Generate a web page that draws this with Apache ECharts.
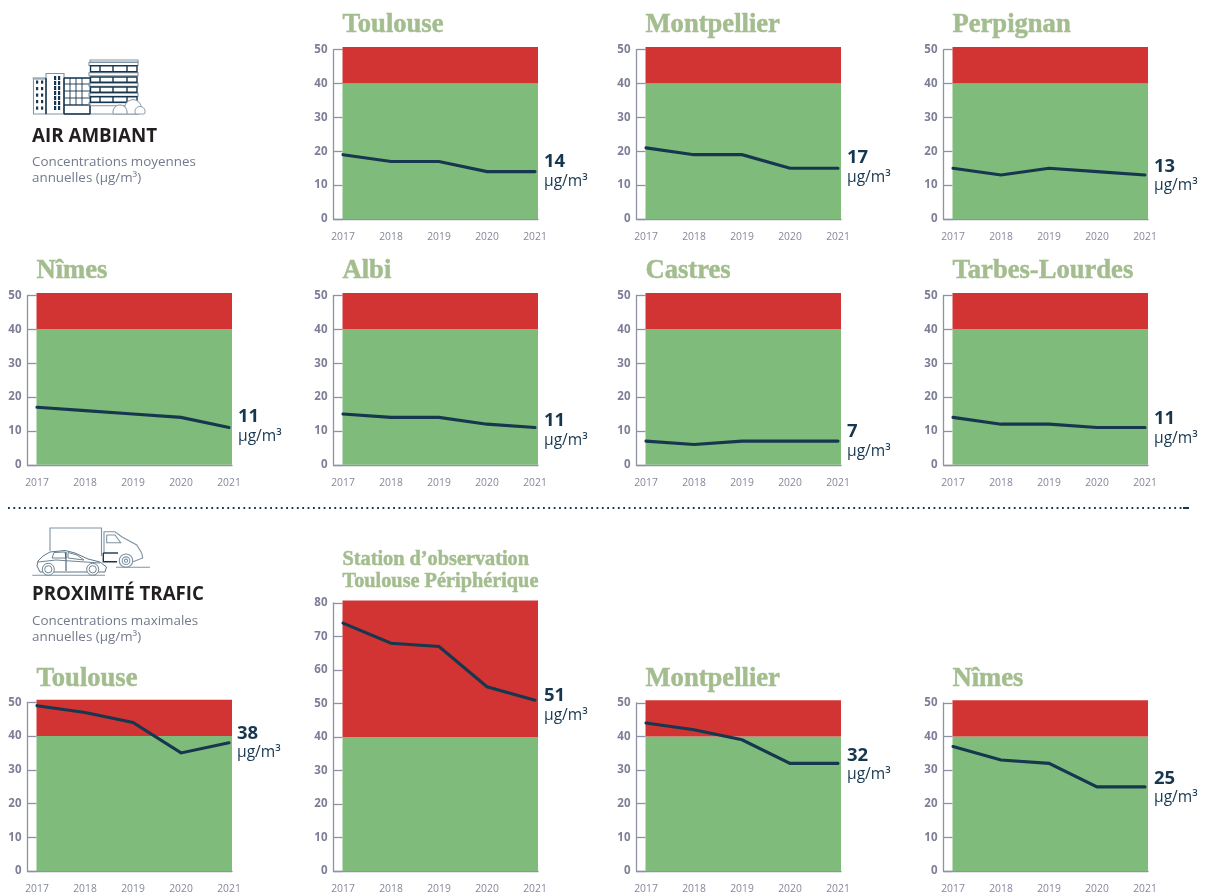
<!DOCTYPE html>
<html>
<head>
<meta charset="utf-8">
<style>html,body{margin:0;padding:0;background:#fff}#c{width:1209px;height:894px}</style>
<script src="https://cdn.jsdelivr.net/npm/echarts@6/dist/echarts.min.js"></script>
</head>
<body>
<div id="c"></div>
<script>
const years = [2017, 2018, 2019, 2020, 2021];
const unit = 'µg/m³';
const limitValue = 40;

const ambToulouse = [19, 17, 17, 14, 14];
const ambMontpellier = [21, 19, 19, 15, 15];
const ambPerpignan = [15, 13, 15, 14, 13];
const ambNimes = [17, 16, 15, 14, 11];
const ambAlbi = [15, 14, 14, 12, 11];
const ambCastres = [7, 6, 7, 7, 7];
const ambTarbes = [14, 12, 12, 11, 11];
const trafToulouse = [49, 47, 44, 35, 38];
const trafStation = [74, 68, 67, 55, 51];
const trafMontpellier = [44, 42, 39, 32, 32];
const trafNimes = [37, 33, 32, 25, 25];
// the figures printed beside each line, as printed in the source
const printedValues = [14, 17, 13, 11, 11, 7, 11, 38, 51, 32, 25];

const COL = [37, 343, 646, 953];
const STEP = 48;
const ROW1 = {top: 49.7, zero: 219}, ROW2 = {top: 295.5, zero: 464.8};
const panels = [
  {t:'Toulouse', d:ambToulouse, x:COL[1], ...ROW1, max:50, ty:25, dy:0},
  {t:'Montpellier', d:ambMontpellier, x:COL[2], ...ROW1, max:50, ty:25, dy:-0.5},
  {t:'Perpignan', d:ambPerpignan, x:COL[3], ...ROW1, max:50, ty:25, dy:1},
  {t:'Nîmes', d:ambNimes, x:COL[0], ...ROW2, max:50, ty:271, dy:-1},
  {t:'Albi', d:ambAlbi, x:COL[1], ...ROW2, max:50, ty:271, dy:2.5},
  {t:'Castres', d:ambCastres, x:COL[2], ...ROW2, max:50, ty:271, dy:0.5},
  {t:'Tarbes-Lourdes', d:ambTarbes, x:COL[3], ...ROW2, max:50, ty:271, dy:1},
  {t:'Toulouse', d:trafToulouse, x:COL[0], top:702.3, zero:872.3, max:50, ty:679, dy:0, dx:-1},
  {t:'Station d’observation\nToulouse Périphérique', d:trafStation, x:COL[1], top:603, zero:873.3, max:80, ty:572, small:true, dy:5},
  {t:'Montpellier', d:trafMontpellier, x:COL[2], top:702.8, zero:872, max:50, ty:679, dy:1.5},
  {t:'Nîmes', d:trafNimes, x:COL[3], top:702.8, zero:872, max:50, ty:679, dy:1}
];

const INK = '#17374f', AXIS = '#8f91a6', TICKTXT = '#7c7f96', GREEN = '#7fbb7a', RED = '#d23434', TITLE = '#a3bd8f';
const SANS = '"Open Sans","Noto Sans",sans-serif', SERIF = '"Liberation Serif",serif';

const grid = [], xAxis = [], yAxis = [], series = [], title = [];
panels.forEach((p, i) => {
  const pxPerUnit = (p.zero - p.top) / p.max;
  const xMin = years[0] - 9.5 / STEP, xMax = years[4] + 3 / STEP;
  const bandL = years[0] - 0.5 / STEP;
  const redTop = p.max + 2.6 / pxPerUnit;
  grid.push({left: p.x - 9.5, width: 4 * STEP + 12.5, top: p.top, height: p.zero - p.top, containLabel: false});
  xAxis.push({
    gridIndex: i, type: 'value', min: xMin, max: xMax,
    splitLine: {show: false}, axisTick: {show: false},
    axisLine: {show: true, onZero: false, lineStyle: {color: AXIS, width: 1.3}},
    axisLabel: {customValues: years, margin: 13, color: '#85889c', fontSize: 10.3, fontFamily: SANS, formatter: v => String(v), hideOverlap: false}
  });
  yAxis.push({
    gridIndex: i, type: 'value', min: 0, max: p.max, interval: 10,
    splitLine: {show: false},
    axisLine: {show: true, lineStyle: {color: AXIS, width: 1.3}},
    axisTick: {show: true, inside: true, length: 9, lineStyle: {color: AXIS, width: 1.3}},
    axisLabel: {margin: 6, color: TICKTXT, fontSize: 11.5, fontWeight: 'bold', fontFamily: SANS, padding: [0, 0, 3, 0]}
  });
  series.push({
    type: 'custom', xAxisIndex: i, yAxisIndex: i, silent: true, z: 3, clip: false,
    data: [[bandL, xMax, 0, limitValue, 0], [bandL, xMax, limitValue, redTop, 1]],
    encode: {x: [0, 1], y: [2, 3]},
    renderItem: (params, api) => {
      const a = api.coord([api.value(0), api.value(3)]);
      const b = api.coord([api.value(1), api.value(2)]);
      return {type: 'rect', shape: {x: a[0], y: a[1], width: b[0] - a[0], height: b[1] - a[1]},
        style: {fill: api.value(4) ? RED : GREEN}};
    }
  });
  series.push({
    type: 'line', xAxisIndex: i, yAxisIndex: i, z: 5, clip: false,
    data: p.d.map((v, k) => [years[k], v]),
    showSymbol: false, symbol: 'none', silent: true,
    lineStyle: {color: INK, width: 3.1, cap: 'round', join: 'miter'},
    endLabel: {
      show: true, distance: 9, offset: [p.dx || 0, p.dy],
      formatter: () => `{a|${printedValues[i]}}\n{b|${unit}}`,
      rich: {
        a: {fontFamily: SANS, fontWeight: 'bold', fontSize: 18.5, color: INK, lineHeight: 20, align: 'left'},
        b: {fontFamily: SANS, fontSize: 15.6, color: INK, lineHeight: 19, align: 'left'}
      }
    }
  });
  title.push({
    text: p.t, left: p.x - 0.5, top: p.small ? p.ty - 23 : p.ty - 16, padding: 0,
    textStyle: {fontFamily: SERIF, fontWeight: 'bold', color: TITLE, textBorderColor: TITLE, textBorderWidth: 0.5,
      fontSize: p.small ? 20.3 : 26.6, lineHeight: p.small ? 22 : 32}
  });
});

const dark = {stroke: INK, fill: 'none', lineWidth: 1.4};
const soft = {stroke: '#7f93a3', fill: 'none', lineWidth: 1.1};
const thin = {stroke: '#5d7688', fill: 'none', lineWidth: 0.9};
const pl = (pts, style) => ({type: 'polyline', shape: {points: pts}, style});
const rc = (x, y, w, h, style) => ({type: 'rect', shape: {x, y, width: w, height: h}, style});
const ci = (cx, cy, r, style) => ({type: 'circle', shape: {cx, cy, r}, style: Object.assign({}, style, {fill: '#fff'})});
const txt = (x, y, text, font, fill) => ({type: 'text', x, y, style: {text, font, fill, verticalAlign: 'middle'}});
const tree = (cx, cy, r) => {
  const pts = [];
  for (let k = 0; k <= 40; k++) {
    const a = Math.PI * 2 * k / 40;
    const px = cx + r * Math.cos(a), py = cy + r * Math.sin(a);
    pts.push([px, Math.min(py, 114)]);
  }
  return {type: 'polygon', shape: {points: pts}, style: {fill: '#fff', stroke: '#7f93a3', lineWidth: 1}};
};

const icons = [];
// building
icons.push(rc(33.5, 79, 12.5, 35, soft), pl([[32.5, 78], [46, 78]], soft));
[82, 88.5, 95, 101.5, 108].forEach(y => [36, 41].forEach(x => icons.push(rc(x, y - 1.5, 2.2, 3.2, {fill: INK}))));
icons.push(rc(46, 73.5, 18, 40.5, soft));
[54, 58].forEach(x => [76, 81, 86, 91, 96, 101, 106].forEach(y => icons.push(rc(x, y, 2.2, 4, {fill: INK}))));
icons.push(pl([[46, 78], [46, 114]], dark));
icons.push(rc(64, 78, 26, 36, soft), pl([[64, 78], [90, 78]], dark), pl([[64, 114], [138, 114]], soft), pl([[64, 114], [90, 114]], dark), pl([[64, 78], [64, 114]], dark));
[84, 91, 98, 105].forEach(y => icons.push(pl([[64, y], [90, y]], y === 105 ? dark : {stroke: INK, fill: 'none', lineWidth: 0.9})));
[70, 76, 82].forEach(x => icons.push(pl([[x, 78], [x, 105]], {stroke: INK, fill: 'none', lineWidth: 0.9})));
icons.push(rc(90, 60, 48, 2, soft), rc(89, 62.5, 49, 3, soft));
[72.7, 83.3, 93.3, 102.7].forEach(y => icons.push(rc(89, y, 49, 3, soft)));
[[65.7, 71.7], [77, 82.3], [87, 92.3], [96.7, 102.3]].forEach(r => {
  icons.push(rc(90.5, r[0], 46.5, r[1] - r[0], dark));
  [100, 113, 127].forEach(x => icons.push(pl([[x, r[0]], [x, r[1]]], dark)));
});
icons.push(pl([[90, 105.7], [90, 114]], dark));
icons.push(tree(133, 108, 8.3), tree(120, 112, 7), tree(140, 111.5, 5));
// truck
icons.push(pl([[50, 551], [50, 528], [101.5, 528], [101.5, 556]], soft));
icons.push(pl([[104, 553], [104, 531.7], [115, 531.7], [121.7, 536.7], [136.7, 545], [141.7, 553], [142.7, 558], [133, 561.7]], soft));
icons.push(pl([[106.7, 535], [115, 535], [120.7, 542.7], [106.7, 542.7], [106.7, 535]], soft));
icons.push(pl([[103.3, 553], [103.3, 561.7], [117, 561.7]], dark), pl([[103.3, 553], [118, 553]], dark));
icons.push(ci(126, 560.7, 6.7, soft), ci(126, 560.7, 3.8, soft), ci(126, 560.7, 1.6, soft));
icons.push(pl([[116, 567.3], [150, 567.3]], soft));
// car
icons.push({type: 'polygon', shape: {points: [[37, 566], [38, 561], [43, 556], [50, 552], [65, 550.5], [75, 553], [88, 559], [100, 562], [106.5, 567], [105, 572], [60, 572], [40, 572]]}, style: {fill: '#fff', stroke: '#5d7688', lineWidth: 1}});
icons.push(pl([[52, 558], [54, 552.5], [65, 552], [66, 558], [52, 558]], thin), pl([[68, 552.5], [77, 555], [84, 560], [68, 558], [68, 552.5]], thin));
icons.push(pl([[66, 552], [66, 571]], {stroke: INK, fill: 'none', lineWidth: 0.9}), pl([[38, 562], [56, 560], [100, 563]], thin));
icons.push(ci(48.3, 569.3, 6, thin), ci(48.3, 569.3, 3.6, thin), ci(92.7, 569.3, 6, thin), ci(92.7, 569.3, 3.6, thin));
icons.push(pl([[32.3, 575.3], [105, 575.3]], soft));

const graphic = icons.concat([
  txt(32, 137, 'AIR AMBIANT', 'bold 18.8px ' + SANS, '#231f20'),
  txt(32, 162, 'Concentrations moyennes', '13.4px ' + SANS, '#737a8c'),
  txt(32, 178.5, 'annuelles (µg/m³)', '13.4px ' + SANS, '#737a8c'),
  txt(32, 595, 'PROXIMITÉ TRAFIC', 'bold 18.7px ' + SANS, '#231f20'),
  txt(32, 621, 'Concentrations maximales', '13.4px ' + SANS, '#737a8c'),
  txt(32, 637, 'annuelles (µg/m³)', '13.4px ' + SANS, '#737a8c'),
  {type: 'line', shape: {x1: 8, y1: 508, x2: 1183, y2: 508}, style: {stroke: INK, lineWidth: 2, lineDash: [1.8, 3.55]}},
  {type: 'line', shape: {x1: 1183, y1: 508, x2: 1189, y2: 508}, style: {stroke: INK, lineWidth: 2}}
]);

const chart = echarts.init(document.getElementById('c'), null, {renderer: 'canvas'});
chart.setOption({animation: false, backgroundColor: '#fff', title, grid, xAxis, yAxis, series, graphic, tooltip: {show: false}});
</script>
</body>
</html>
